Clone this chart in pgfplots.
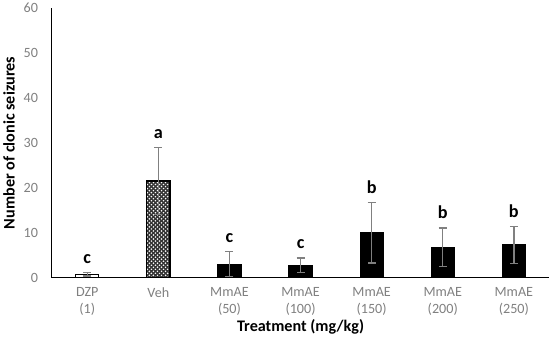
\documentclass[border=0pt]{standalone}
\usepackage{pgfplots}
\pgfplotsset{compat=1.18}
\usepackage{fontspec}
\setmainfont{Carlito}
\usetikzlibrary{patterns}
\definecolor{tickgray}{RGB}{128,128,128}
\definecolor{errgray}{RGB}{128,128,128}
\pgfdeclarepatternformonly{xdiamond}{\pgfqpoint{-0.5bp}{-0.5bp}}{\pgfqpoint{4.5bp}{4.5bp}}{\pgfqpoint{4bp}{4bp}}{%
  \pgfsetlinewidth{1.3bp}%
  \pgfpathmoveto{\pgfqpoint{0bp}{0bp}}\pgfpathlineto{\pgfqpoint{4bp}{4bp}}%
  \pgfpathmoveto{\pgfqpoint{0bp}{4bp}}\pgfpathlineto{\pgfqpoint{4bp}{0bp}}%
  \pgfusepath{stroke}}
\begin{document}
\begin{tikzpicture}
\begin{axis}[
  scale only axis,
  width=493bp, height=267bp,
  xmin=-0.5, xmax=6.5,
  ymin=0, ymax=60,
  ytick={0,10,20,30,40,50,60},
  xtick={0,1,2,3,4,5,6},
  xticklabels={{DZP\\(1)},{Veh},{MmAE\\(50)},{MmAE\\(100)},{MmAE\\(150)},{MmAE\\(200)},{MmAE\\(250)}},
  x tick label style={align=center, font=\fontsize{14bp}{16.5bp}\selectfont, text=tickgray, yshift=-6bp},
  y tick label style={font=\fontsize{14bp}{16.5bp}\selectfont, text=tickgray, xshift=-10bp},
  /pgf/number format/assume math mode=true,
  major tick length=0pt,
  axis x line*=bottom,
  axis y line*=left,
  axis line style={line width=1.2bp, black},
  xlabel={\bfseries Treatment (mg/kg)},
  ylabel={\bfseries Number of clonic seizures},
  label style={font=\fontsize{16bp}{18bp}\selectfont\bfseries},
  xlabel style={yshift=2bp},
  ylabel style={yshift=2bp},
  ybar, bar width=23bp, bar shift=0pt,
  error bars/y dir=both, error bars/y explicit,
  error bars/error mark options={rotate=90, mark size=4bp, line width=1.3bp, errgray},
  error bars/error bar style={line width=1.3bp, errgray},
  clip=false,
]
\addplot[draw=black, line width=1.2bp, fill=white] coordinates {(0,0.8) +- (0,0.4)};
\addplot[draw=black, line width=1.3bp, fill=white, postaction={pattern=xdiamond, pattern color=black!80}] coordinates {(1,21.5) +- (0,7.5)};
\addplot[draw=black, line width=1bp, fill=black] coordinates {
 (2,3.0) +- (0,2.8)
 (3,2.8) +- (0,1.6)
 (4,10.0) +- (0,6.7)
 (5,6.8) +- (0,4.3)
 (6,7.3) +- (0,4.1)
};
\begin{scope}[every node/.style={anchor=base, font=\fontsize{18bp}{20bp}\selectfont\bfseries, yshift=9bp}]
\node at (axis cs:0,1.2) {c};
\node at (axis cs:1,29.0) {a};
\node at (axis cs:2,5.8) {c};
\node at (axis cs:3,4.4) {c};
\node at (axis cs:4,16.7) {b};
\node at (axis cs:5,11.1) {b};
\node at (axis cs:6,11.4) {b};
\end{scope}
\end{axis}
\end{tikzpicture}
\end{document}
